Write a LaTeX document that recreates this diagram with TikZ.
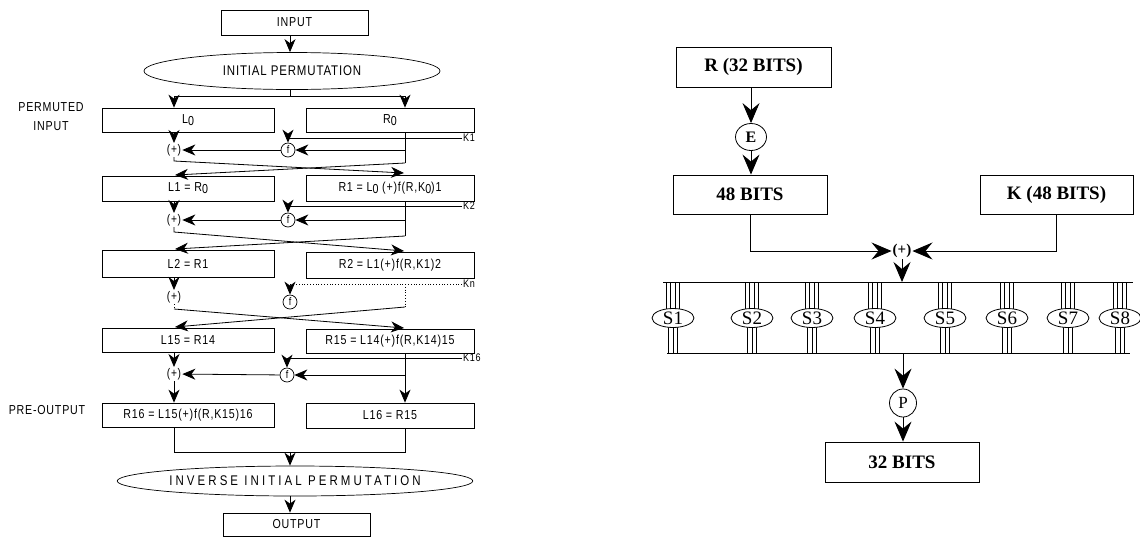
\documentclass[tikz,border=0pt]{standalone}
\usepackage{fontspec}
\setmainfont{Liberation Serif}
\newfontfamily\lsans[FakeStretch=0.82,LetterSpace=6]{Liberation Sans}
\usetikzlibrary{arrows.meta,shapes.geometric,calc}
\pgfdeclarelayer{bg}
\pgfsetlayers{bg,main}
\newcommand\lo[1]{\lower2pt\hbox{#1}}
\begin{document}
\begin{tikzpicture}[x=1pt,y=-1pt,
  lb/.style={draw,line width=0.7pt,inner sep=0pt,font=\lsans\fontsize{13}{14}\selectfont},
  ell/.style={ellipse,draw,line width=0.7pt,inner sep=0pt,font=\lsans\fontsize{14}{15}\selectfont},
  xo/.style={inner sep=1pt,font=\lsans\fontsize{12.5}{13}\selectfont},
  fc/.style={circle,draw,line width=0.7pt,inner sep=0pt,minimum size=14pt,font=\lsans\fontsize{11}{12}\selectfont},
  kl/.style={inner sep=1pt,anchor=west,font=\lsans\fontsize{11}{12}\selectfont},
  lt/.style={inner sep=0pt,font=\lsans\fontsize{13}{19}\selectfont},
  ln/.style={line width=0.8pt},
  la/.style={-{Stealth[length=13pt,width=11pt,inset=4pt]},line width=0.8pt},
  rbx/.style={draw,line width=0.9pt,inner sep=0pt,font=\bfseries\fontsize{19}{21}\selectfont},
  ra/.style={-{Stealth[length=20pt,width=17pt,inset=7pt]},line width=0.9pt},
  sel/.style={ellipse,draw,fill=white,line width=0.8pt,inner sep=0pt,minimum width=42pt,minimum height=19pt,font=\fontsize{19}{20}\selectfont},
  rel/.style={ellipse,draw,line width=0.8pt,inner sep=0pt}
]
\useasboundingbox (0,0) rectangle (1140,547);

% ---------------- left diagram ----------------
\coordinate (cl) at (174,0);
\coordinate (cr) at (405,0);

\node[lb,minimum width=147pt,minimum height=25pt] (in) at (294.5,22.5) {INPUT};
\node[ell,minimum width=296pt,minimum height=37pt] (ip) at (292,71) {INITIAL PERMUTATION};

\node[lb,minimum width=172pt,minimum height=24pt] (L0) at (188,120) {L\lo{0}};
\node[lb,minimum width=168pt,minimum height=24pt] (R0) at (390,120) {R\lo{0}};
\node[lb,minimum width=172pt,minimum height=25pt] (L1) at (188,188.5) {L1 = R\lo{0}};
\node[lb,minimum width=168pt,minimum height=26pt] (R1) at (390,188) {R1 = L\lo{0} (+)f(R,K\lo{0})1};
\node[lb,minimum width=172pt,minimum height=27pt] (L2) at (188,263.5) {L2 = R1};
\node[lb,minimum width=168pt,minimum height=26pt] (R2) at (390,265) {R2 = L1(+)f(R,K1)2};
\node[lb,minimum width=172pt,minimum height=24pt] (L15) at (188,340) {L15 = R14};
\node[lb,minimum width=168pt,minimum height=24pt] (R15) at (390,341) {R15 = L14(+)f(R,K14)15};
\node[lb,minimum width=172pt,minimum height=24pt] (R16) at (188,415) {R16 = L15(+)f(R,K15)16};
\node[lb,minimum width=168pt,minimum height=25pt] (L16) at (390,415.5) {L16 = R15};

\node[ell,minimum width=296pt,minimum height=30pt] (iip) at (295,481) {\addfontfeature{LetterSpace=22}INVERSE INITIAL PERMUTATION};
\node[lb,minimum width=147pt,minimum height=23pt] (out) at (296.5,524.5) {OUTPUT};

\node[lt,align=center] (pin) at (51,117) {PERMUTED\\INPUT};
\node[lt] (pout) at (47,410) {PRE-OUTPUT};

% top connectors
\coordinate (sp) at (290,96);
\draw[la] (in.south -| sp) -- (ip.north -| sp);
\draw[ln] (ip.south -| sp) -- (sp);
\draw[la] (sp) -| (cl |- L0.north);
\draw[la] (sp) -| (cr |- R0.north);

% round 1
\node[xo] (x1) at (174,150) {(+)};
\node[fc] (f1) at (288,150) {f};
\node[kl] (k1) at (462,138) {K1};
\draw[la] (cl |- L0.south) -- (x1);
\draw[la] (k1.west) -| (f1);
\coordinate (c1) at (405,163);
\draw[ln] (cr |- R0.south) -- (c1);
\draw[la] (cr |- f1) -- (f1);
\draw[la] (f1) -- (x1);
\coordinate (d1) at (174,161);
\coordinate (a1) at (404,173);
\coordinate (b1) at (175,175);
\draw[la] (x1) -- (d1) -- (a1);
\draw[la] (c1) -- (b1);

% round 2
\node[xo] (x2) at (174,220) {(+)};
\node[fc] (f2) at (288,220) {f};
\node[kl] (k2) at (462,206) {K2};
\draw[la] (cl |- L1.south) -- (x2);
\draw[la] (k2.west) -| (f2);
\coordinate (c2) at (405,236);
\draw[ln] (cr |- R1.south) -- (c2);
\draw[la] (cr |- f2) -- (f2);
\draw[la] (f2) -- (x2);
\coordinate (d2) at (174,232);
\coordinate (a2) at (404,251);
\coordinate (b2) at (175,249);
\draw[la] (x2) -- (d2) -- (a2);
\draw[la] (c2) -- (b2);

% round n (dotted)
\node[xo] (x3) at (174,297) {(+)};
\node[fc] (f3) at (290,302) {f};
\node[kl] (kn) at (462,284) {Kn};
\draw[la] (cl |- L2.south) -- (x3);
\coordinate (e3) at (290,286);
\draw[ln,dotted] (kn.west) -| (e3);
\draw[la] (e3) -- (f3);
\coordinate (c3) at (405,307);
\draw[ln,dotted] (cr |- kn.west) -- (c3);
\coordinate (d3) at (174,309);
\draw[ln,dotted] (x3) -- (d3);
\coordinate (a3) at (404,328);
\coordinate (b3) at (175,327);
\draw[la] (d3) -- (a3);
\draw[la] (c3) -- (b3);

% round 16
\node[xo] (x4) at (174,374) {(+)};
\node[fc] (f4) at (287,375) {f};
\node[kl] (k16) at (462,358) {K16};
\draw[la] (cl |- L15.south) -- (x4);
\draw[la] (k16.west) -| (f4);
\draw[la] (cr |- R15.south) -- (cr |- L16.north);
\draw[la] (cr |- f4) -- (f4);
\draw[la] (f4) -- (x4);
\draw[la] (x4) -- (cl |- R16.north);

% bottom
\coordinate (jn) at (290,452);
\draw[ln] (cl |- R16.south) |- (jn);
\draw[ln] (cr |- L16.south) |- (jn);
\draw[la] (jn) -- (jn |- iip.north);
\draw[la] (jn |- iip.south) -- (jn |- out.north);

% ---------------- right diagram ----------------
\node[rbx,minimum width=155pt,minimum height=40pt] (rb) at (753.5,67) {R (32 BITS)};
\node[rel,minimum width=31pt,minimum height=27pt,font=\bfseries\fontsize{16}{17}\selectfont] (e) at (751,137) {E};
\node[rbx,minimum width=154pt,minimum height=39pt] (b48) at (750,194.5) {48 BITS};
\node[rbx,minimum width=153pt,minimum height=39pt] (kb) at (1056.5,194.5) {K (48 BITS)};
\node[inner sep=1pt,font=\bfseries\fontsize{15}{16}\selectfont] (xr) at (902,251) {(+)};
\draw[ra] (e |- rb.south) -- (e);
\draw[ra] (e) -- (e |- b48.north);
\draw[ra] (b48.south) |- (xr);
\draw[ra] (kb.south) |- (xr);

\coordinate (tl) at (663,282);
\coordinate (tr) at (1133,282);
\coordinate (bl) at (667,353);
\coordinate (br) at (1130,353);
\draw[ln] (tl) -- (tr);
\draw[ln] (bl) -- (br);
\draw[ra] (xr) -- (xr |- tl);

\foreach \x [count=\i] in {673,752,812,875,945,1007,1068,1120}{
  \node[sel] (s\i) at (\x,318) {S\i};
}
\begin{pgfonlayer}{bg}
\foreach \x in {673,752,812,875,945,1007,1068,1120}{
  \foreach \d in {-7,-2.5,2,6.5}{\draw[line width=0.8pt] ({\x+\d},282) -- ({\x+\d},318);}
  \foreach \d in {-4.5,0,4.5}{\draw[line width=0.8pt] ({\x+\d},318) -- ({\x+\d},353);}
}
\end{pgfonlayer}

\node[rel,minimum width=27pt,minimum height=28pt,font=\fontsize{17}{18}\selectfont] (p) at (903,403) {P};
\node[rbx,minimum width=154pt,minimum height=40pt] (b32) at (902,462) {32 BITS};
\coordinate (pb) at (903,353);
\draw[ra] (pb) -- (p);
\draw[ra] (p) -- (p |- b32.north);
\end{tikzpicture}
\end{document}
